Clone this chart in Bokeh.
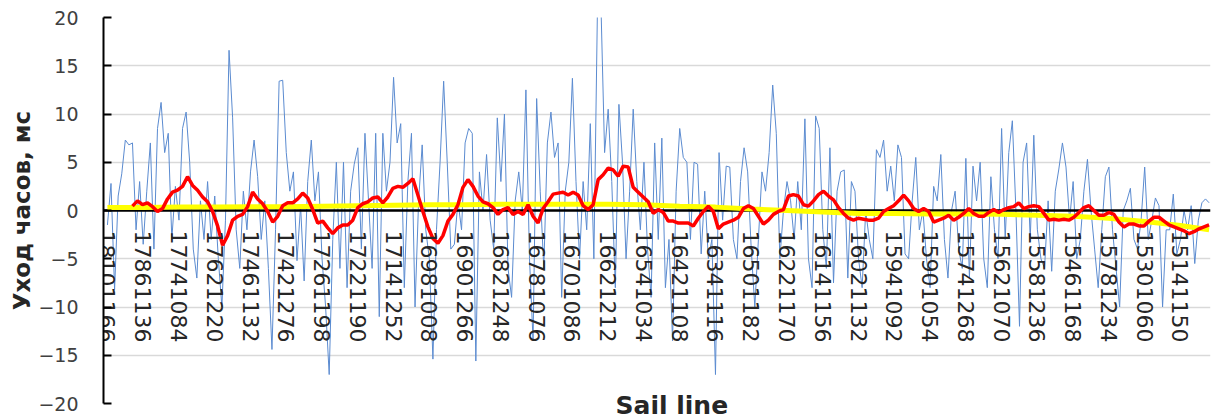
import math
from bokeh.plotting import figure
from bokeh.models import FixedTicker, Range1d, Title
from bokeh.embed import file_html
from bokeh.resources import INLINE

# Category tick labels (every 10th sail line shown)
sail_labels = [
    "18101166", "17861136", "17741084", "17621220", "17461132", "17421276",
    "17261198", "17221190", "17141252", "16981008", "16901266", "16821248",
    "16781076", "16701086", "16621212", "16541034", "16421108", "16341116",
    "16501182", "16221170", "16141156", "16021132", "15941092", "15901054",
    "15741268", "15621070", "15581236", "15461168", "15781234", "15301060",
    "15141150",
]

# Clock drift per sail line, ms (blue)
drift = [
    -1.5, 2.8, -8.2, 1.5, 3.8, 7.3, 6.8, 7.0, -2.0, 3.0,
    -3.5, 2.0, 7.0, -4.0, 8.5, 11.2, 6.0, 8.0, -3.0, 2.5,
    -1.0, 8.5, 10.2, 5.0, -4.0, -7.0, 1.0, -3.0, 3.0, -3.0,
    1.5, -5.0, -10.0, -1.0, 16.6, 9.6, -2.0, -6.0, 2.0, -2.0,
    4.0, 7.3, 3.5, -3.0, 1.0, -6.0, -14.4, -2.0, 13.4, 13.5,
    6.0, 2.0, 4.0, -5.2, 0.5, -7.3, 3.0, 7.3, 1.0, 4.0,
    -5.0, -10.0, -17.0, -3.0, 5.0, -6.0, 5.0, -8.0, 2.0, 4.8,
    6.5, -4.0, 8.0, 1.0, -6.0, 8.0, -11.0, 8.0, 2.0, 5.0,
    13.8, 7.0, 9.0, -8.0, 3.0, 8.0, -10.0, 1.0, 6.8, -2.0,
    -5.0, -15.4, -2.0, 5.0, 13.4, 5.0, -4.0, -3.5, 1.0, -2.0,
    7.0, 8.5, 8.0, -15.6, 4.0, 0.0, 5.8, -1.0, -4.0, 9.6,
    3.0, 10.0, -6.0, -9.0, 1.0, 4.0, 0.0, 12.5, -5.0, -13.5,
    11.6, 2.0, -6.0, 7.0, 10.2, 5.5, 7.0, -9.0, 2.0, 5.0,
    13.7, 3.0, -5.0, 3.0, -2.0, 9.0, -5.0, 21.0, 21.0, 6.0,
    10.5, 3.0, -8.0, 11.0, 5.0, -5.0, 2.0, 10.5, 3.0, -2.0,
    5.0, -4.0, -9.0, 7.0, -3.0, 7.5, -8.0, -3.0, -13.5, 2.0,
    8.5, 5.5, 5.0, -3.0, 5.0, 4.8, -4.5, 2.0, -5.0, -3.0,
    -17.0, 6.0, -1.0, 4.6, 4.5, -3.0, -5.0, 3.0, 6.5, 4.0,
    -4.0, -10.0, -3.0, 4.0, 2.0, 6.0, 13.0, 8.0, -5.0, 0.0,
    3.0, 1.0, -3.0, 3.0, -2.0, 9.5, -5.0, -8.0, 9.8, 8.5,
    -2.0, -6.0, 6.5, -7.5, 2.0, 4.0, 4.2, -7.0, 3.0, 2.0,
    -5.0, -8.0, 0.0, -3.0, -5.0, 6.3, 5.5, 7.3, 2.0, 4.6,
    1.0, 6.8, 5.5, -4.5, -5.0, 1.0, 5.5, -2.0, 0.0, -5.0,
    -8.0, 2.5, 1.0, 5.8, -3.0, -7.0, 0.0, 2.0, -4.0, -6.0,
    5.4, -7.0, 4.6, 1.0, 5.0, -5.0, -8.0, 3.5, -2.0, -5.0,
    8.5, -3.0, 6.0, 9.3, 0.0, -12.0, 5.0, 7.0, -3.0, 7.8,
    -2.0, -5.0, -6.0, 1.0, -6.3, 2.0, 4.3, 7.0, 4.5, -1.0,
    3.0, -5.0, -3.0, 2.0, 5.3, 0.0, -4.0, -8.0, -2.0, 3.5,
    4.5, -2.0, -6.0, -10.0, 0.0, 1.0, 2.3, -3.0, -4.0, -1.0,
    4.5, -3.0, -1.0, 1.3, 0.5, -10.0, -2.0, -2.0, 1.7, -4.5,
    -3.0, 0.0, -2.0, 0.5, -5.5, -1.0, 0.8, 1.2, 0.8,
]

# Moving average (red), sampled along the sail lines
moving_avg = [
    0.45, 1.0, 0.6, 0.8, 0.4, -0.1, 0.2, 1.2, 1.9, 2.1,
    2.5, 3.5, 2.6, 2.1, 1.4, 0.9, -0.1, -1.6, -3.6, -2.6,
    -1.0, -0.6, -0.4, 0.4, 1.9, 1.2, 0.7, -0.1, -1.2, -0.6,
    0.5, 0.8, 0.8, 1.2, 1.8, 1.3, 0.1, -1.3, -1.1, -1.8,
    -2.4, -1.8, -1.5, -1.5, -1.0, 0.3, 0.7, 0.9, 1.3, 1.4,
    0.8, 1.4, 2.3, 2.5, 2.4, 2.8, 3.3, 1.6, -0.1, -1.7,
    -2.9, -3.4, -2.6, -1.1, -0.4, 0.6, 2.4, 3.2, 2.5, 1.5,
    0.9, 0.7, 0.3, -0.4, 0.1, 0.3, -0.4, -0.1, -0.4, 0.6,
    -0.6, -1.3, 0.2, 0.9, 1.7, 1.8, 1.9, 1.6, 1.9, 1.6,
    0.5, 0.1, 0.6, 3.2, 3.7, 4.4, 4.2, 3.55, 4.6, 4.5,
    2.4, 1.9, 1.4, 0.9, -0.3, 0.1, -0.2, -1.1, -1.1, -1.3,
    -1.3, -1.3, -1.6, -0.8, -0.1, 0.45, -0.1, -1.9, -1.4, -1.2,
    -1.0, -0.7, 0.2, 0.5, 0.2, -0.6, -1.4, -1.0, -0.4, -0.1,
    0.1, 1.5, 1.65, 1.5, 0.6, 0.45, 1.0, 1.65, 2.0, 1.5,
    1.1, 0.3, -0.3, -0.8, -1.0, -0.8, -0.9, -1.0, -1.0, -0.8,
    -0.1, 0.2, 0.5, 1.0, 1.6, 1.0, 0.2, -0.1, 0.2, -0.1,
    -1.2, -1.0, -0.8, -0.5, -1.0, -0.7, -0.3, 0.2, -0.3, -0.6,
    -0.6, -0.2, 0.1, -0.2, 0.1, 0.3, 0.4, 0.8, 0.2, 0.4,
    0.5, 0.4, -0.3, -1.0, -0.9, -1.0, -0.9, -1.0, -0.7, -0.2,
    0.3, 0.5, 0.0, -0.5, -0.5, -0.2, -0.4, -1.2, -1.7, -1.4,
    -1.4, -1.6, -1.6, -1.1, -0.7, -0.7, -1.1, -1.5, -1.7, -1.9,
    -2.1, -2.4, -2.2, -1.9, -1.7, -1.5,
]

# Polynomial trend (yellow) at each labelled sail line and at the last one
trend = [
    0.3, 0.3, 0.35, 0.35, 0.4, 0.4, 0.45, 0.5, 0.55, 0.6, 0.6,
    0.65, 0.65, 0.65, 0.65, 0.6, 0.45, 0.35, 0.15, 0.0, -0.15,
    -0.3, -0.3, -0.35, -0.35, -0.4, -0.5, -0.6, -0.8, -1.15, -1.55,
    -2.0,
]

x_drift = list(range(len(drift)))
x_avg = [7 + 1.4 * k for k in range(len(moving_avg))]
x_trend = [10 * k for k in range(len(sail_labels))] + [len(drift) - 1]
label_ticks = [10 * k for k in range(len(sail_labels))]

FONT = "DejaVu Sans"

p = figure(width=1215, height=416, output_backend="svg", toolbar_location=None,
           x_range=Range1d(-1.1, 308.4), y_range=Range1d(-20, 20),
           min_border_left=103, min_border_right=5, min_border_top=17,
           min_border_bottom=13)
p.outline_line_color = None
p.background_fill_color = "white"
p.border_fill_color = "white"

yt = FixedTicker(ticks=list(range(-20, 21, 5)))
p.yaxis.ticker = yt
p.ygrid.ticker = yt
p.ygrid.grid_line_color = "#D9D9D9"
p.ygrid.grid_line_width = 1.5
p.xgrid.grid_line_color = None

p.yaxis.axis_line_color = "black"
p.yaxis.axis_line_width = 2
p.yaxis.major_tick_line_color = "black"
p.yaxis.major_tick_line_width = 2
p.yaxis.major_tick_in = 8
p.yaxis.major_tick_out = 0
p.yaxis.minor_tick_line_color = None
p.yaxis.major_label_text_font = FONT
p.yaxis.major_label_text_font_size = "19px"
p.yaxis.major_label_text_color = "#404040"
p.yaxis.major_label_standoff = 25
p.yaxis.axis_label = "Уход часов, мс"
p.yaxis.axis_label_text_font = FONT
p.yaxis.axis_label_text_font_style = "bold"
p.yaxis.axis_label_text_font_size = "23px"
p.yaxis.axis_label_text_color = "#262626"
p.yaxis.axis_label_standoff = 0

xa = p.xaxis[0]
xa.ticker = FixedTicker(ticks=label_ticks)
xa.major_label_overrides = {t: lab for t, lab in zip(label_ticks, sail_labels)}
xa.fixed_location = 0
xa.axis_line_color = None
xa.major_tick_line_color = None
xa.minor_tick_line_color = None
xa.major_label_orientation = "vertical"
xa.major_label_standoff = 14
xa.major_label_text_font = FONT
xa.major_label_text_font_size = "22px"
xa.major_label_text_color = "#262626"

p.line(x_drift, drift, line_color="#5B8BD0", line_width=1)
p.hspan(y=[0], line_color="black", line_width=2.5)
p.line(x_trend, trend, line_color="#FFFF00", line_width=5)
p.line(x_avg, moving_avg, line_color="#FF0000", line_width=3.5)

p.add_layout(Title(text="Sail line", align="left", offset=512, standoff=-33,
                   text_font=FONT, text_font_style="bold",
                   text_font_size="25px", text_color="#262626"), "below")

open("out.html", "w").write(file_html(p, INLINE))
